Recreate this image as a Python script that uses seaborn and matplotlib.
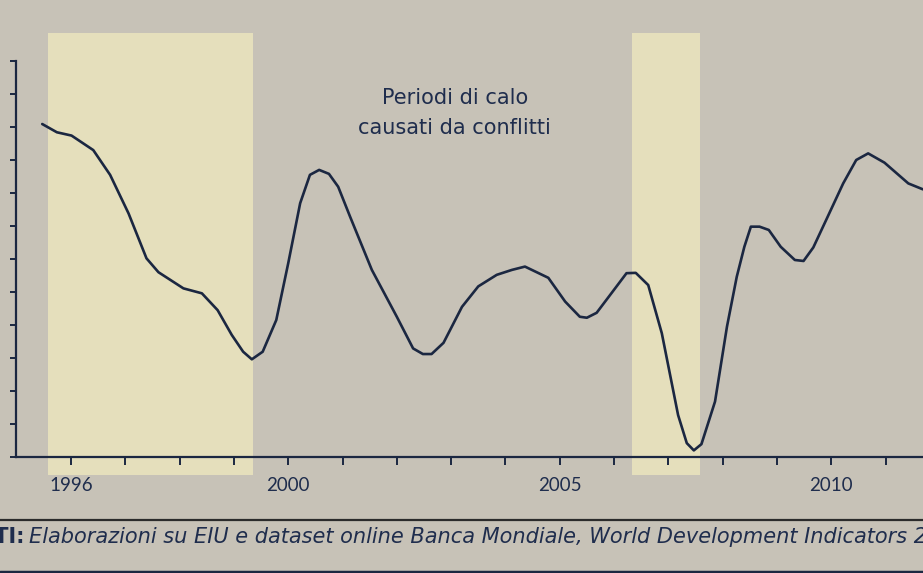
import matplotlib
matplotlib.use("Agg")
import matplotlib.pyplot as plt
import seaborn as sns
import pandas as pd
from matplotlib.lines import Line2D

# ---- data ----
years = [1995.47, 1995.74, 1996.01, 1996.41, 1996.72, 1997.06, 1997.39, 1997.61,
         1998.07, 1998.41, 1998.70, 1998.96, 1999.17, 1999.33, 1999.53, 1999.78,
         2000.00, 2000.22, 2000.40, 2000.57, 2000.75, 2000.92, 2001.14, 2001.54,
         2002.00, 2002.30, 2002.48, 2002.64, 2002.86, 2003.20, 2003.50, 2003.84,
         2004.12, 2004.36, 2004.79, 2005.10, 2005.37, 2005.50, 2005.68, 2005.96,
         2006.23, 2006.40, 2006.63, 2006.88, 2007.18, 2007.34, 2007.47, 2007.61,
         2007.86, 2008.08, 2008.26, 2008.40, 2008.52, 2008.68, 2008.85, 2009.07,
         2009.33, 2009.49, 2009.67, 2009.92, 2010.22, 2010.46, 2010.68, 2010.98,
         2011.42, 2011.69]
values = [10.09, 9.84, 9.74, 9.30, 8.55, 7.38, 6.02, 5.60,
          5.11, 4.96, 4.45, 3.70, 3.19, 2.96, 3.19, 4.15,
          5.87, 7.69, 8.55, 8.70, 8.58, 8.19, 7.28, 5.67,
          4.25, 3.29, 3.12, 3.12, 3.46, 4.55, 5.17, 5.52,
          5.67, 5.77, 5.43, 4.71, 4.25, 4.22, 4.37, 4.98,
          5.57, 5.58, 5.21, 3.75, 1.27, 0.42, 0.20, 0.39,
          1.68, 3.95, 5.46, 6.37, 6.98, 6.98, 6.88, 6.37,
          5.97, 5.94, 6.35, 7.23, 8.29, 9.00, 9.20, 8.92,
          8.29, 8.11]
conflict_start = [1995.58, 2006.33]
conflict_end = [1999.36, 2007.58]
tick_years = list(range(1996, 2012))
labelled_years = [1996, 2000, 2005, 2010]
annotation = "Periodi di calo\ncausati da conflitti"
source_label = "FONTI:"
source_text = "Elaborazioni su EIU e dataset online Banca Mondiale, World Development Indicators 2011"

df = pd.DataFrame({"anno": years, "valore": values})

# ---- style ----
BG = "#c7c2b7"
YELLOW = "#e5dfbc"
NAVY = "#1b2741"
TXT = "#1f2d4d"

sns.set_theme(style="ticks")
plt.rcParams["font.family"] = ["Lato", "DejaVu Sans"]
WIDE = ["DejaVu Sans"]

W, H = 923, 573
fig = plt.figure(figsize=(W / 100, H / 100), dpi=100, facecolor=BG)
ax = fig.add_axes([16 / W, 116 / H, (W - 16) / W, 396 / H])
ax.set_facecolor("none")

# conflict periods (extend above and below the plot area)
for s, e in zip(conflict_start, conflict_end):
    ax.axvspan(s, e, ymin=-18 / 396, ymax=424 / 396, color=YELLOW,
               lw=0, zorder=0, clip_on=False)

sns.lineplot(data=df, x="anno", y="valore", ax=ax, color=NAVY,
             linewidth=1.9, zorder=3, clip_on=False)

ax.set_xlim(1994.987, 2011.69)
ax.set_ylim(0, 12)
ax.set_xlabel("")
ax.set_ylabel("")

ax.set_xticks(tick_years)
ax.set_xticklabels([str(y) if y in labelled_years else "" for y in tick_years],
                   fontsize=13.5, color=TXT)
ax.set_yticks(range(0, 13))
ax.set_yticklabels([])

for side in ["top", "right"]:
    ax.spines[side].set_visible(False)
for side in ["left", "bottom"]:
    ax.spines[side].set_color(NAVY)
    ax.spines[side].set_linewidth(1.6)
    ax.spines[side].set_zorder(4)

ax.tick_params(axis="x", direction="out", length=5.5, width=1.4, color=NAVY, pad=9)
ax.tick_params(axis="y", direction="out", length=4.5, width=1.4, color=NAVY)

ax.text(2003.07, 10.42, annotation, ha="center", va="center", fontsize=15,
        family=WIDE, color=TXT, linespacing=1.65, zorder=5)

# source line
fig.text(25 / W, 1 - 537 / H, source_label, ha="right", va="center",
         fontsize=15, fontweight="bold", family=WIDE, color=TXT)
fig.text(29 / W, 1 - 537 / H, source_text, ha="left", va="center",
         fontsize=15, fontstyle="italic", family=WIDE, color=TXT)

fig.add_artist(Line2D([0, 1], [1 - 520 / H, 1 - 520 / H], transform=fig.transFigure,
                      color="#2b2b2b", linewidth=1.6))
fig.add_artist(Line2D([0, 1], [1 - 572 / H, 1 - 572 / H], transform=fig.transFigure,
                      color=NAVY, linewidth=2.5))

fig.savefig("out.png", dpi=100, facecolor=BG)
